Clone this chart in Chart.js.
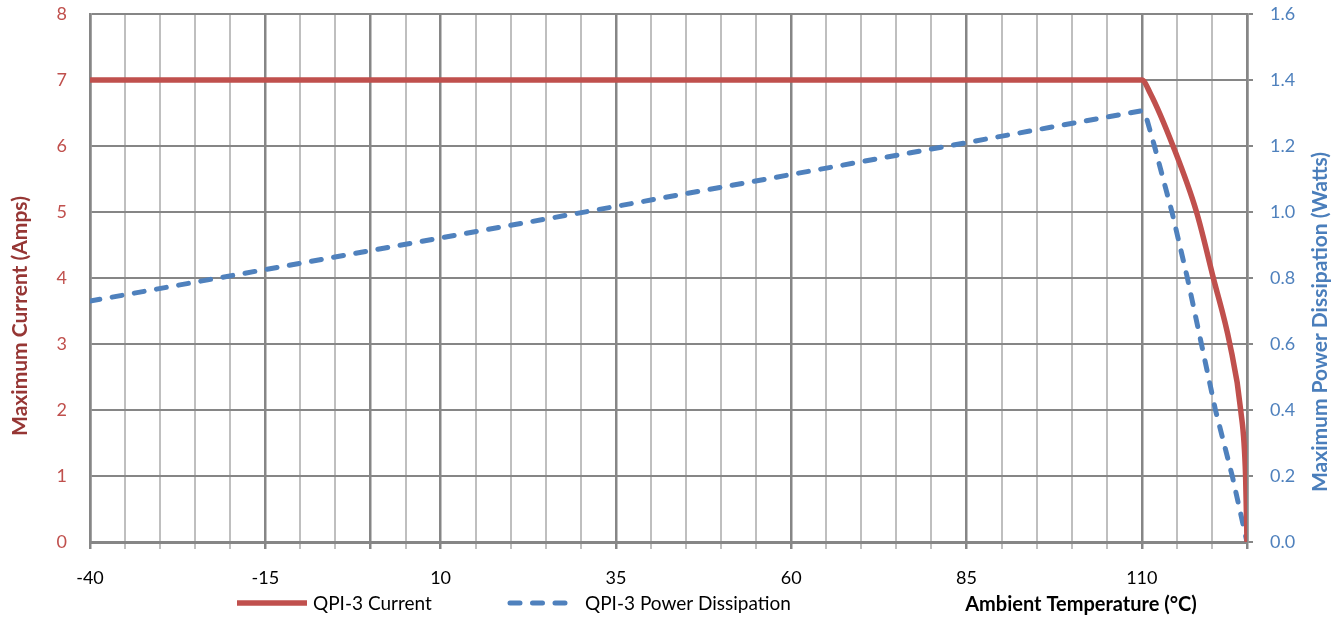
<!DOCTYPE html>
<html>
<head>
<meta charset="utf-8">
<title>QPI-3 derating</title>
<script src="https://cdn.jsdelivr.net/npm/chart.js@4.4.1/dist/chart.umd.min.js"></script>
<style>
  html, body { margin: 0; padding: 0; background: #fff; }
  #wrap { width: 1341px; height: 619px; }
</style>
</head>
<body>
<div id="wrap"><canvas id="derating"></canvas></div>
<script>
// values
const currentTemps = [-40, 110, 111.2, 114.45, 117.8, 120.2, 122.55, 124.1, 124.8, 125];
const currentAmps  = [7, 7, 6.8, 6, 5, 4, 3, 2, 1, 0];

const powerTemps = [-40, 35, 110, 110.6, 111.2, 111.8, 114.3, 116.5, 118.5, 120.5, 122.9, 125];
const powerWatts = [0.73, 1.017, 1.307, 1.29, 1.245, 1.2, 1.0, 0.8, 0.6, 0.4, 0.2, 0];

const tempLabels = [-40, -15, 10, 35, 60, 85, 110];
const seriesNames = ["QPI-3 Current", "QPI-3 Power Dissipation"];

const RED = "#C0504D";
const BLUE = "#4F81BD";
const DARK = "#868686";
const LIGHT = "#BFBFBF";
const FONT = "Lato, 'Open Sans', sans-serif";

function toPoints(xs, ys) {
  return xs.map((x, i) => ({ x: x, y: ys[i] }));
}

// major grid lines fall on labelled ticks, the old y-axis crossing (0) and the right edge
function isMajor(v) {
  return tempLabels.includes(v) || v === 0 || v === 125;
}

// no extra room for half tick labels above/below the plot
function fixedWidth(w) {
  return function (scale) {
    scale.width = w;
    scale.paddingTop = 0;
    scale.paddingBottom = 0;
  };
}

// axis titles and the legend sit on the same row as in the original, so draw them here
const sideText = {
  id: "sideText",
  afterDraw(chart) {
    const ctx = chart.ctx;
    const a = chart.chartArea;
    const ds = chart.data.datasets;
    ctx.save();

    // legend
    const items = [
      { x0: 237, x1: 307, tx: 313 },
      { x0: 510, x1: 570, tx: 585 },
    ];
    const ly = 603;
    ctx.font = "19px " + FONT;
    ctx.textBaseline = "middle";
    ctx.textAlign = "left";
    items.forEach((it, i) => {
      ctx.beginPath();
      ctx.strokeStyle = ds[i].borderColor;
      ctx.lineWidth = ds[i].borderWidth;
      ctx.lineCap = ds[i].borderCapStyle;
      ctx.setLineDash(ds[i].borderDash || []);
      ctx.moveTo(it.x0, ly);
      ctx.lineTo(it.x1, ly);
      ctx.stroke();
      ctx.setLineDash([]);
      ctx.fillStyle = "#000";
      ctx.fillText(seriesNames[i], it.tx, ly + 1);
    });

    // x title
    ctx.font = "bold 20px " + FONT;
    ctx.textAlign = "center";
    ctx.fillStyle = "#000";
    ctx.fillText("Ambient Temperature (°C)", a.right - 166, ly + 2);

    // left title
    ctx.font = "bold 21px " + FONT;
    ctx.save();
    ctx.translate(a.left - 70, a.bottom - 226);
    ctx.rotate(-Math.PI / 2);
    ctx.fillStyle = "#963634";
    ctx.fillText("Maximum Current (Amps)", 0, 0);
    ctx.restore();

    // right title
    ctx.save();
    ctx.translate(a.right + 73, a.bottom - 220);
    ctx.rotate(-Math.PI / 2);
    ctx.fillStyle = "#4A7EBB";
    ctx.fillText("Maximum Power Dissipation (Watts)", 0, 0);
    ctx.restore();

    ctx.restore();
  },
};

const ctx = document.getElementById("derating").getContext("2d");

const deratingChart = new Chart(ctx, {
  type: "line",
  data: {
    datasets: [
      {
        label: seriesNames[0],
        data: toPoints(currentTemps, currentAmps),
        yAxisID: "y",
        borderColor: RED,
        borderWidth: 5.5,
        borderCapStyle: "butt",
        borderJoinStyle: "round",
        cubicInterpolationMode: "monotone",
        pointRadius: 0,
        fill: false,
      },
      {
        label: seriesNames[1],
        data: toPoints(powerTemps, powerWatts),
        yAxisID: "y1",
        borderColor: BLUE,
        borderWidth: 5,
        borderDash: [10, 12.5],
        borderCapStyle: "round",
        borderJoinStyle: "round",
        tension: 0,
        pointRadius: 0,
        fill: false,
      },
    ],
  },
  options: {
    responsive: true,
    maintainAspectRatio: false,
    animation: false,
    layout: { padding: { top: 14, left: 0, right: 0, bottom: 0 } },
    plugins: {
      legend: { display: false },
      tooltip: { enabled: false },
    },
    scales: {
      x: {
        type: "linear",
        min: -40,
        max: 125,
        afterFit(scale) {
          scale.height = 77;
          scale.paddingLeft = 0;
          scale.paddingRight = 0;
        },
        ticks: {
          stepSize: 5,
          autoSkip: false,
          maxRotation: 0,
          padding: 18,
          color: "#000",
          font: { family: FONT, size: 18 },
          callback: (v) => (tempLabels.includes(v) ? String(v) : ""),
        },
        grid: {
          color: (c) => (isMajor(c.tick.value) ? DARK : LIGHT),
          lineWidth: (c) => (isMajor(c.tick.value) ? 2.5 : 2),
          tickLength: 7,
          tickColor: (c) => (isMajor(c.tick.value) ? DARK : LIGHT),
        },
        border: { color: DARK, width: 3 },
      },
      y: {
        position: "left",
        min: 0,
        max: 8,
        afterFit: fixedWidth(90),
        ticks: {
          stepSize: 1,
          padding: 23,
          color: RED,
          font: { family: FONT, size: 18 },
        },
        grid: { color: DARK, lineWidth: 2, drawTicks: false },
        border: { color: DARK, width: 2.5 },
      },
      y1: {
        position: "right",
        min: 0,
        max: 1.6,
        afterFit: fixedWidth(94),
        ticks: {
          stepSize: 0.2,
          padding: 17,
          color: BLUE,
          font: { family: FONT, size: 18 },
          callback: (v) => v.toFixed(1),
        },
        grid: { drawOnChartArea: false, tickLength: 6, color: DARK, lineWidth: 2 },
        border: { color: DARK, width: 2.5 },
      },
    },
  },
  plugins: [sideText],
});
</script>
</body>
</html>
